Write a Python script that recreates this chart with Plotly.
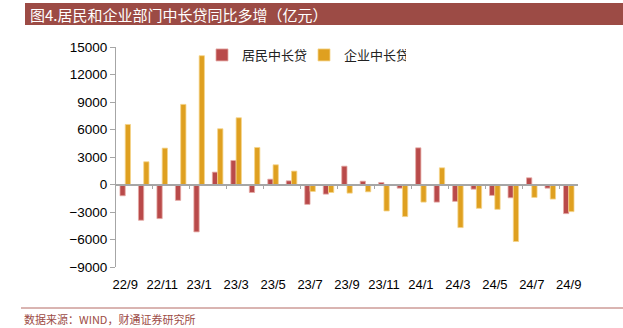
import plotly.graph_objects as go

months = ["22/9", "22/10", "22/11", "22/12", "23/1", "23/2", "23/3", "23/4", "23/5", "23/6",
          "23/7", "23/8", "23/9", "23/10", "23/11", "23/12", "24/1", "24/2", "24/3", "24/4",
          "24/5", "24/6", "24/7", "24/8", "24/9"]
household = [-1230, -3900, -3720, -1730, -5170, 1350, 2620, -870, 580, 400,
             -2170, -1050, 2000, 360, 220, -400, 4000, -1920, -1840, -510,
             -1190, -1450, 730, -400, -3180]
corporate = [6550, 2480, 3970, 8740, 14050, 6080, 7280, 4040, 2150, 1460,
             -760, -870, -940, -800, -2890, -3500, -1920, 1820, -4700, -2600,
             -2710, -6220, -1410, -1590, -2960]
tick_labels = ["22/9", "22/11", "23/1", "23/3", "23/5", "23/7", "23/9", "23/11",
               "24/1", "24/3", "24/5", "24/7", "24/9"]

W, H = 623, 328
L, R, T, B = 116, 45, 47, 61
pw, ph = W - L - R, H - T - B

def px(x):
    return (x - L) / pw

def py(y):
    return (H - B - y) / ph

idx = list(range(len(months)))
ymin, ymax = -9000, 15000

fig = go.Figure()
fig.add_trace(go.Bar(x=idx, y=household, name="居民中长贷",
                     marker=dict(color="#B94A4A", line=dict(color="#E6A9A5", width=0.8))))
fig.add_trace(go.Bar(x=idx, y=corporate, name="企业中长贷",
                     marker=dict(color="#DFA020", line=dict(color="#F5D48A", width=0.8))))
fig.add_trace(go.Scatter(x=[0], y=[0], xaxis="x2", mode="markers",
                         marker=dict(opacity=0), showlegend=False, hoverinfo="skip"))

fig.update_layout(
    width=W, height=H,
    margin=dict(l=L, r=R, t=T, b=B),
    paper_bgcolor="white", plot_bgcolor="white",
    barmode="group", bargap=0.43, bargroupgap=0,
    font=dict(family="Liberation Sans, Arial", size=13, color="#000"),
    showlegend=True,
    legend=dict(orientation="h", x=px(202), y=py(40), xanchor="left", yanchor="top",
                font=dict(family="Noto Sans CJK SC", size=13, color="#222"),
                bgcolor="rgba(0,0,0,0)", entrywidth=57, entrywidthmode="pixels",
                tracegroupgap=0),
    xaxis=dict(range=[-0.5, len(months) - 0.5], tickvals=idx[::2], ticktext=tick_labels,
               showline=False, showgrid=False, zeroline=False,
               ticks="outside", ticklen=5, tickcolor="rgba(0,0,0,0)",
               tickfont=dict(size=13)),
    xaxis2=dict(range=[-0.5, len(months) - 0.5], overlaying="x", anchor="free",
                position=(0 - ymin) / (ymax - ymin), side="bottom",
                showline=True, linecolor="#A6A6A6", linewidth=1.5,
                tickvals=[i + 0.5 for i in range(1, len(months) - 1, 2)],
                ticks="outside", ticklen=4, tickcolor="#A6A6A6",
                showticklabels=False, showgrid=False, zeroline=False),
    yaxis=dict(range=[ymin, ymax], dtick=3000, tick0=0, tickformat="d",
               showgrid=False, zeroline=False,
               showline=True, linecolor="#A6A6A6", linewidth=1,
               ticks="outside", ticklen=5, tickcolor="#A6A6A6",
               tickfont=dict(size=13.5)),
    shapes=[
        dict(type="rect", xref="paper", yref="paper", x0=px(25), x1=px(623), y0=py(25), y1=py(3),
             fillcolor="#9C4B45", line=dict(width=0), layer="below"),
        dict(type="line", xref="paper", yref="paper", x0=px(21), x1=px(623), y0=py(308), y1=py(308),
             line=dict(color="#B46A64", width=1)),
    ],
    annotations=[
        dict(text="图4.居民和企业部门中长贷同比多增（亿元）", xref="paper", yref="paper",
             x=px(28), y=py(14), xanchor="left", yanchor="middle", showarrow=False,
             font=dict(family="Noto Sans CJK SC", size=15, color="white")),
        dict(text="数据来源：WIND，财通证券研究所", xref="paper", yref="paper",
             x=px(22), y=py(319), xanchor="left", yanchor="middle", showarrow=False,
             font=dict(family="Noto Sans CJK SC", size=11, color="#9C4B45")),
    ],
)

fig.write_html("out.html")
